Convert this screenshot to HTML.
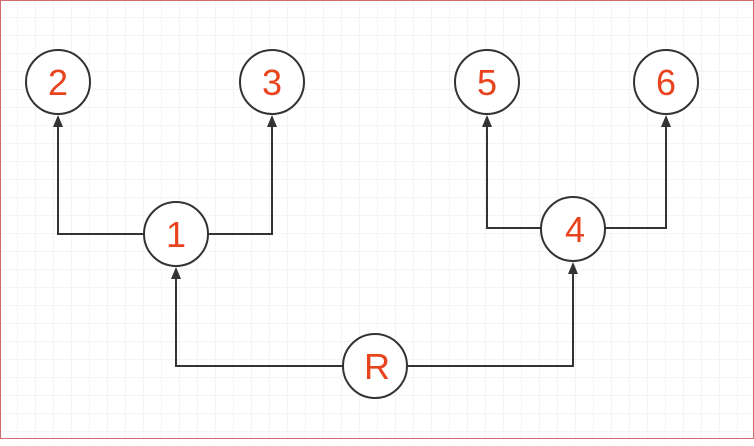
<!DOCTYPE html>
<html><head><style>
html,body{margin:0;padding:0;}
body{width:754px;height:441px;overflow:hidden;background:#fff;}
</style></head><body>
<svg width="754" height="441" xmlns="http://www.w3.org/2000/svg">
<defs>
<pattern id="g" width="18" height="18" patternUnits="userSpaceOnUse">
<path d="M18 0V18M0 18H18" stroke="#e8e8e8" stroke-width="1" fill="none"/>
</pattern>
</defs>
<rect width="754" height="441" fill="url(#g)"/>
<rect x="0.5" y="0.5" width="753" height="438" fill="none" stroke="#d46a6a" stroke-width="1"/>
<g stroke="#333" stroke-width="2" fill="none">
<path d="M144 234H58V124"/>
<path d="M208 234H272V124"/>
<path d="M541 228H487V124"/>
<path d="M605 228H666V124"/>
<path d="M343 366H176V276"/>
<path d="M407 366H573V271"/>
</g>
<g fill="#333">
<path d="M58 115L53 127H63Z"/>
<path d="M272 115L267 127H277Z"/>
<path d="M487 115L482 127H492Z"/>
<path d="M666 115L661 127H671Z"/>
<path d="M176 267L171 279H181Z"/>
<path d="M573 262L568 274H578Z"/>
</g>
<g stroke="#333" stroke-width="2" fill="#fff">
<circle cx="58" cy="82" r="32"/>
<circle cx="272" cy="82" r="32"/>
<circle cx="487" cy="82" r="32"/>
<circle cx="666" cy="82" r="32"/>
<circle cx="176" cy="234" r="32"/>
<circle cx="573" cy="229" r="32"/>
<circle cx="375" cy="366" r="32"/>
</g>
<g fill="#e8431c" font-family="Liberation Sans, sans-serif" font-size="36" text-anchor="middle">
<text x="58" y="95">2</text>
<text x="272" y="95">3</text>
<text x="487" y="95">5</text>
<text x="666" y="95">6</text>
<text x="176" y="247">1</text>
<text x="575" y="242">4</text>
<text x="377" y="379">R</text>
</g>
</svg>
</body></html>
